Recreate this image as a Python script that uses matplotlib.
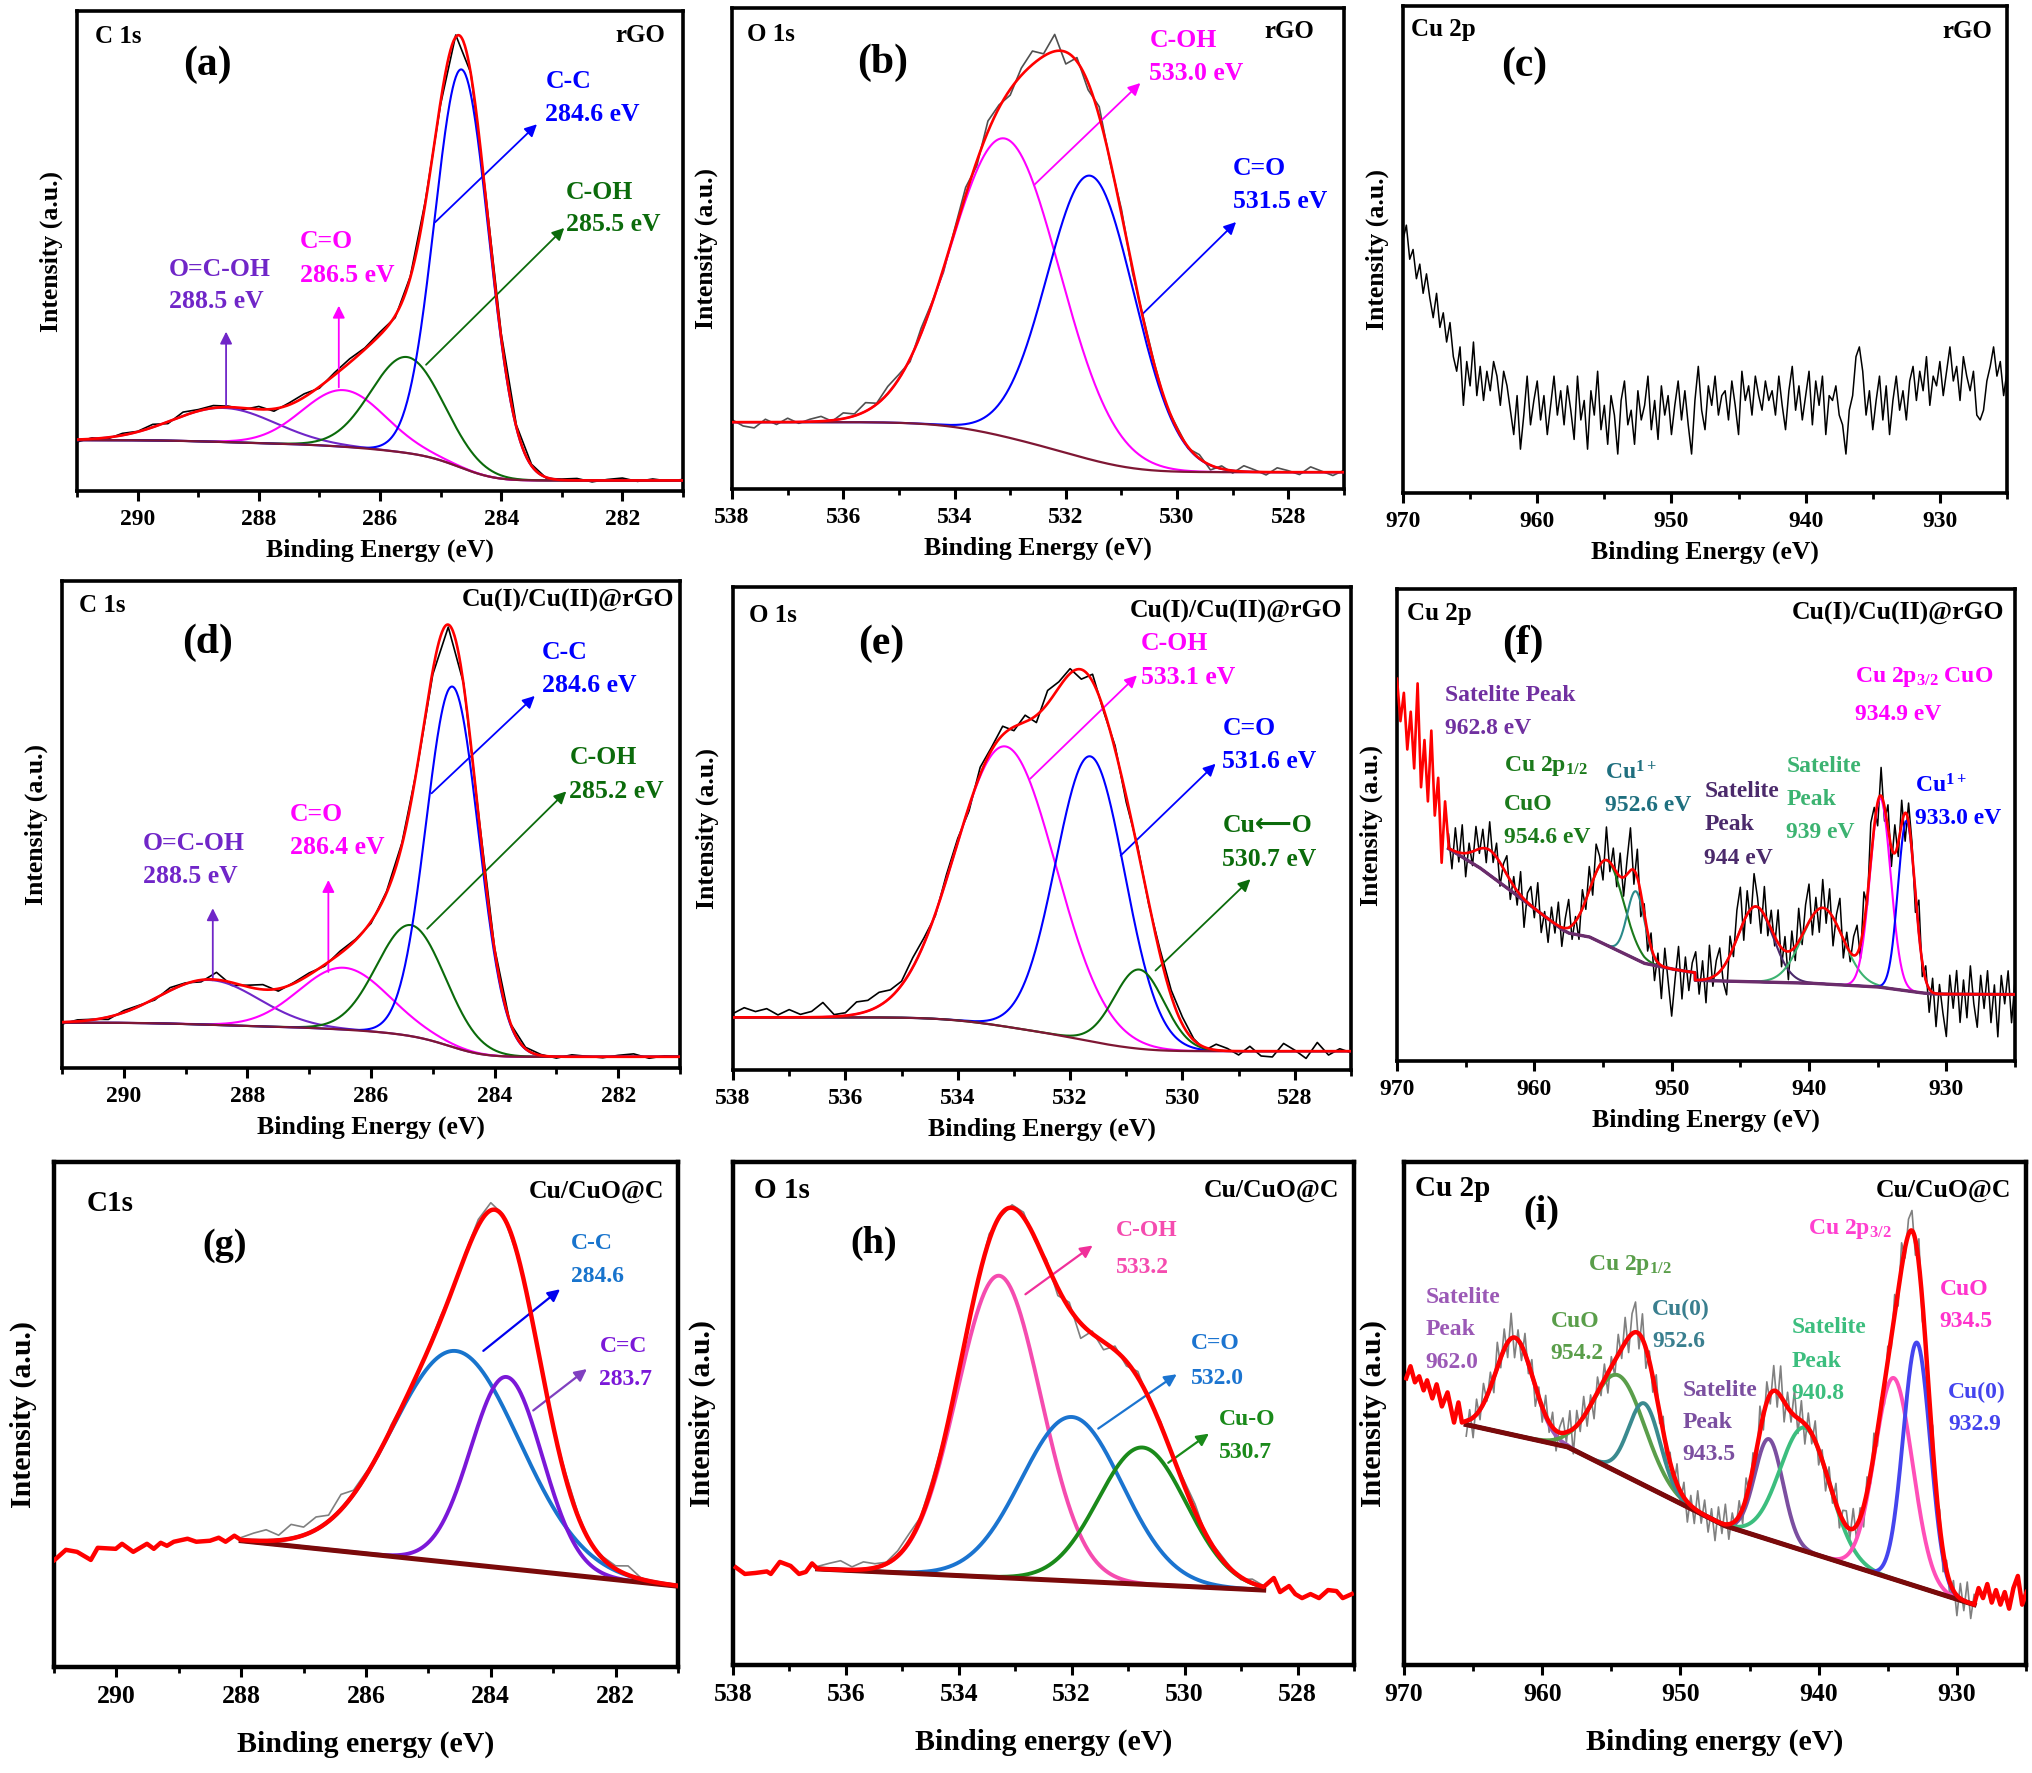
import numpy as np
import matplotlib
matplotlib.use('Agg')
import matplotlib.pyplot as plt
from matplotlib.ticker import MultipleLocator

plt.rcParams['font.family'] = ['Liberation Serif', 'DejaVu Sans']
plt.rcParams['font.weight'] = 'bold'
plt.rcParams['mathtext.fontset'] = 'custom'
plt.rcParams['mathtext.rm'] = 'Liberation Serif:bold'
plt.rcParams['mathtext.it'] = 'Liberation Serif:bold'
plt.rcParams['mathtext.bf'] = 'Liberation Serif:bold'
plt.rcParams['mathtext.default'] = 'rm'

# ------------------------------------------------------------------ data
# (a) rGO C 1s
a_centers = [288.58, 286.6, 285.55, 284.65]
a_amps = [7.1, 11.8, 20.0, 83.0]
a_fwhm = [2.0, 1.6, 1.4, 1.05]
a_bg = [10.6, 2.2]
a_resid = [-0.5, 0.2, -0.3, 0.4, 0.1, 0.6, -0.4, 0.8, 0.3, 0.5,
           0.2, -0.3, 0.6, -0.5, 0.4, 0.7, -0.3, 0.5, 0.8, 0.3,
           0.6, -0.4, 0.3, 0.5, -0.6, 0.4, 0.2, 0.6, 0.9, 0.4,
           0.3, -0.2, 0.2, 0.4, -0.3, 0.2, 0.5, -0.2, 0.3, -0.1, 0.2]

# (b) rGO O 1s
b_centers = [533.09, 531.55]
b_amps = [62.0, 59.0]
b_fwhm = [2.3, 1.85]
b_bg = [13.9, 3.5]
b_resid = [0.5, -0.8, -1.2, 0.6, -0.5, 0.8, -0.3, 0.5, 1.0, -0.2,
           1.2, 0.4, 1.8, 0.2, 1.5, 0.9, -0.6, 1.1, 0.3, -0.8,
           0.5, 1.6, -1.0, 2.2, 0.6, -1.2, 1.5, 2.8, 0.5, 3.5,
           -2.5, 0.8, -1.5, 2.0, -0.4, 1.0, -0.8, 0.5, 0.3, -0.6,
           0.4, -0.3, 0.8, -1.0, 0.6, -0.5, 1.2, 0.4, -0.6, 0.9,
           0.3, -0.5, 1.1, 0.2, -0.7, 0.4]

# (c) rGO Cu 2p raw counts (970 -> 925 eV)
c_raw = [52, 55, 48, 50, 44, 47, 41, 45, 40, 36, 41, 34, 37, 31, 35, 28,
         25, 30, 18, 27, 22, 31, 20, 26, 19, 25, 21, 27, 24, 18, 25, 22,
         17, 12, 20, 9, 16, 24, 14, 19, 23, 15, 20, 12, 18, 24, 16, 21,
         14, 22, 17, 11, 24, 15, 19, 9, 21, 16, 25, 13, 18, 10, 20, 16,
         8, 19, 23, 14, 17, 10, 21, 15, 18, 24, 13, 19, 11, 22, 16, 20,
         12, 18, 23, 15, 21, 14, 8, 19, 26, 17, 13, 22, 18, 24, 16, 20,
         21, 15, 23, 18, 12, 25, 19, 22, 16, 24, 20, 17, 23, 19, 21, 16,
         24, 18, 13, 21, 26, 17, 22, 15, 20, 25, 14, 23, 18, 24, 12, 20,
         19, 22, 16, 14, 8, 17, 20, 28, 30, 25, 16, 21, 13, 19, 24, 15,
         22, 12, 19, 24, 17, 21, 15, 23, 26, 19, 25, 21, 28, 18, 24, 22,
         27, 20, 25, 30, 23, 26, 19, 28, 24, 21, 25, 16, 15, 17, 23, 26,
         30, 24, 27, 20, 25]

# (d) Cu(I)/Cu(II)@rGO C 1s
d_centers = [288.62, 286.44, 285.35, 284.68]
d_amps = [9.2, 12.7, 22.8, 74.0]
d_fwhm = [1.9, 1.7, 1.3, 1.0]
d_bg = [9.3, 2.3]
d_resid = [-0.4, 0.3, 0.1, -0.5, 0.4, 0.2, -0.3, 0.6, 0.2, -0.4,
           1.5, -0.6, 0.3, 1.0, -0.5, 0.2, 0.4, -0.3, 0.5, 0.2,
           -0.4, 0.3, 0.5, -0.2, -0.8, -0.5, 0.3, 0.6, 0.4, -0.2,
           0.3, 0.2, -0.3, 0.4, 0.1, -0.2, 0.3, 0.6, -0.3, 0.2, 0.1]

# (e) Cu(I)/Cu(II)@rGO O 1s
e_centers = [533.15, 531.64, 530.77]
e_amps = [58.0, 59.0, 16.4]
e_fwhm = [2.1, 1.45, 1.05]
e_bg = [10.9, 3.9]
e_resid = [0.8, 2.0, 1.2, 1.8, 0.5, 1.6, 0.6, 1.2, 3.0, 0.4,
           0.6, 2.5, 2.2, 2.8, 1.6, 0.8, 2.0, 1.2, -0.4, 1.0,
           0.8, -1.0, 1.5, 0.6, 1.8, -0.8, 1.4, -1.5, 2.7, 1.2,
           1.0, -2.0, 1.5, -0.5, 0.8, -1.2, 0.6, -0.3, 1.0, 1.2,
           1.5, 0.3, -0.6, 1.2, 0.5, -0.8, 1.0, -1.0, -1.2, 1.6,
           0.2, -1.5, 1.8, -0.8, 0.5, -0.3]

# (f) Cu(I)/Cu(II)@rGO Cu 2p
f_centers = [963.2, 954.7, 952.6, 943.9, 939.0, 934.8, 932.9]
f_amps = [5.3, 18.0, 14.4, 15.9, 16.1, 40.0, 36.0]
f_fwhm = [2.5, 2.8, 1.5, 3.0, 3.5, 1.75, 1.46]
f_bg_x = [966.25, 964, 962, 960, 958, 957.5, 956, 954, 952, 950, 948.3, 948.29, 940, 935, 932, 931, 925]
f_bg_y = [45.0, 41.0, 36.7, 32.3, 27.9, 27.1, 26.3, 23.5, 20.7, 19.5, 18.7, 17.1, 16.5, 15.7, 14.5, 14.2, 14.1]
f_edge = [81, 72, 78, 66, 74, 62, 80, 58, 68, 55, 70, 52, 60, 42, 55, 46]   # 970 -> 966.25
f_resid = [3, -4, 5, -2, 6, -5, 2, -3, 5, -1,
           4, -3, 6, -2, 3, -5, 1, 4, -4, 2,
           -3, 5, -6, 2, 4, -2, 6, -4, 1, -5,
           3, -2, 5, -4, 2, 6, -3, 1, -5, 4,
           -2, 5, -3, 6, 2, -4, 7, -2, 4, -3,
           5, -4, 3, 9, -3, 6, -5, 2, -4, 3,
           -5, 2, -7, 4, -3, -10, -2, 5, -6, 3,
           -4, 2, 6, -3, 4, -5, 7, -2, 3, 5,
           -3, -7, 4, -2, 6, 9, -4, 5, -3, 7,
           2, -5, 6, -3, 4, -2, 7, -4, 3, -6,
           4, -3, 7, -2, 5, 8, -4, 3, -5, 6,
           -3, 5, -6, 2, 7, -4, 3, -2, 4, 6,
           -3, 7, -2, 8, 4, -5, 6, -3, 5, -4,
           6, -3, 5, -6, 4, 2, -4, 7, -3, 3,
           -5, 3, -7, 2, -4, -9, 4, -3, 5, -6,
           3, -5, 6, -2, -7, 4, -3, 5, -6, 2,
           -9, 4, -2, 5, -6, 3]

# (g) Cu/CuO@C C1s
g_centers = [284.56, 283.75]
g_amps = [42.0, 37.9]
g_fwhm = [2.4, 1.35]
g_bg_x = [288.0, 281.0]
g_bg_y = [25.0, 16.0]
g_left_x = [290.99, 290.81, 290.63, 290.41, 290.30, 290.01, 289.91, 289.73, 289.51, 289.40,
            289.29, 289.19, 289.08, 288.86, 288.72, 288.50, 288.36, 288.25, 288.11]
g_left_y = [21.2, 23.2, 22.8, 21.2, 23.6, 23.4, 24.4, 22.8, 24.4, 23.4,
            24.6, 24.0, 24.8, 25.4, 24.8, 25.0, 25.6, 24.8, 26.0]
g_resid = [0.5, 1.5, 2.2, 1.0, 2.8, 1.6, 2.5, 1.2, 3.0, 0.8,
           0.6, -0.5, 0.8, 0.3, -0.6, 0.4, 0.8, -0.3, 0.5, 1.2,
           1.5, 0.4, -0.6, 0.8, 0.5, -0.4, 1.0, 0.6, -0.3, 0.4,
           0.6, 1.8, 0.3, -0.2, 0.2, 0.1]

# (h) Cu/CuO@C O 1s
h_centers = [533.29, 532.0, 530.75]
h_amps = [60.0, 32.6, 27.2]
h_fwhm = [1.75, 2.1, 1.84]
h_bg_x = [536.5, 528.6]
h_bg_y = [19.1, 14.9]
h_left_x = [537.95, 537.79, 537.60, 537.40, 537.33, 537.17, 536.98, 536.83, 536.71, 536.60]
h_left_y = [19.4, 18.1, 18.3, 18.6, 18.1, 20.5, 19.7, 18.1, 18.5, 20.2]
h_right_x = [528.42, 528.31, 528.15, 528.04, 527.92, 527.77, 527.62, 527.46, 527.31, 527.20, 527.04]
h_right_y = [17.3, 14.5, 15.7, 14.1, 13.3, 14.1, 13.3, 14.9, 14.7, 13.3, 14.1]
h_resid = [0.5, 1.2, 1.8, 0.6, 1.5, 0.8, 0.3, 1.0, 1.6, 0.4,
           1.2, 0.6, -0.5, 0.8, 0.3, 1.2, -0.4, 0.6, 1.0, -0.6,
           0.8, -1.5, 1.2, -3.0, 0.5, -1.6, 0.8, -0.9, 1.2, -0.5,
           0.7, -0.4, 0.9, 1.5, -0.3, 0.6, 0.4, -0.5, 0.8, 0.2]

# (i) Cu/CuO@C Cu 2p
i_centers = [962.0, 954.45, 952.6, 943.6, 941.0, 934.57, 932.9]
i_amps = [19.4, 19.3, 16.3, 20.0, 24.5, 40.0, 48.5]
i_fwhm = [3.2, 4.4, 2.7, 2.4, 4.2, 3.2, 2.3]
i_bg_x = [965.5, 958.2, 946.8, 928.75]
i_bg_y = [47.8, 43.4, 27.7, 12.0]
i_left_x = [969.84, 969.53, 969.21, 968.90, 968.58, 968.33, 967.95, 967.64, 967.26, 966.85, 966.38, 966.06, 965.81]
i_left_y = [57.0, 59.4, 56.2, 57.4, 54.6, 56.6, 53.0, 55.8, 51.4, 54.2, 48.2, 52.2, 48.2]
i_right_x = [928.43, 928.11, 927.80, 927.48, 927.17, 926.85, 926.54, 926.22, 925.91, 925.59, 925.28, 924.96]
i_right_y = [15.3, 13.3, 16.1, 12.4, 14.9, 12.0, 14.5, 11.2, 15.3, 17.7, 12.0, 14.5]
i_resid = [-3, 2, -4, 3, -2, 4, -1, 3, -3, 5,
           -2, 4, -3, 5, -4, 2, -3, 4, -2, 3,
           -4, 2, -3, 4, -2, 3, -4, 1, 3, -2,
           4, -5, 3, -2, 4, -3, 2, -4, 3, -2,
           3, -4, 2, -3, 4, -2, 5, -3, 4, 6,
           -3, 5, -4, 2, -3, 4, -2, 3, -4, 2,
           -3, 4, -2, 3, -4, 2, -3, 4, -2, 3,
           -3, 2, -4, 3, -2, 4, -3, 2, -2, 3,
           -3, 4, -2, 3, -4, 5, -3, 4, -2, 5,
           -3, 6, -4, 3, -2, 5, -3, 4, -4, 3,
           -2, 4, -3, 2, -4, 3, -2, 4, -3, 2,
           3, -2, 4, -3, 2, -4, 3, -2, 4, -3,
           2, -4, 3, -2, 4, -3, 5, -2, 3, 4,
           -3, 5, -4, 2, -3, 4, -2, 3, -4, 2,
           -3, 2, -4, 3, -2, 4, -3, 2]

# ------------------------------------------------------------------ helpers
W, H = 2032, 1773
fig = plt.figure(figsize=(W / 100, H / 100), dpi=100)
K = 20
BG = '#7F1734'
BG3 = '#7A0A0A'


def make_ax(l, t, r, b):
    return fig.add_axes([l / W, 1 - b / H, (r - l) / W, (b - t) / H])


def gauss(x, c, a, w):
    return a * np.exp(-4 * np.log(2) * (x - c) ** 2 / w ** 2)


def shirley(tot, high, low):
    s = np.cumsum(tot[::-1])[::-1]
    return low + (high - low) * s / s[0]


def lin_bg(x, xs, ys):
    xs = np.asarray(xs)[::-1]
    ys = np.asarray(ys)[::-1]
    return np.interp(x, xs, ys)


def style(ax, xlim, major, minor, xlabel, big=False):
    ax.set_xlim(*xlim)
    ax.set_ylim(0, 100)
    ax.set_yticks([])
    ax.xaxis.set_major_locator(MultipleLocator(major))
    ax.xaxis.set_minor_locator(MultipleLocator(minor))
    ax.tick_params(axis='x', which='major', direction='out', length=7, width=2.2,
                   labelsize=18.5 if big else 17, pad=6)
    ax.tick_params(axis='x', which='minor', direction='out', length=4, width=2.0)
    for s in ax.spines.values():
        s.set_linewidth(3.2 if big else 2.6)
    ax.set_xlabel(xlabel, fontsize=21.5 if big else 18.5, labelpad=16 if big else 6,
                  fontweight='bold')
    ax.set_ylabel('Intensity (a.u.)', fontsize=21.5 if big else 18.5,
                  labelpad=12 if big else 10, fontweight='bold')


def txt(ax, x, y, s, color='black', size=18.5, ha='left', **kw):
    ax.text(x, y, s, color=color, fontsize=size, ha=ha, va='center', fontweight='bold', **kw)


def arrow(ax, start, end, color, lw=1.3, ms=18):
    ax.annotate('', xy=end, xytext=start,
                arrowprops=dict(arrowstyle='-|>', color=color, lw=lw, mutation_scale=ms,
                                shrinkA=0, shrinkB=0))


def shirley_panel(ax, x0, x1, centers, amps, fwhms, colors, bgp, resid, raw_color):
    n = len(resid)
    x = np.linspace(x0, x1, (n - 1) * K + 1)
    comps = [gauss(x, c, a, w) for c, a, w in zip(centers, amps, fwhms)]
    tot = np.sum(comps, axis=0)
    bg = shirley(tot, bgp[0], bgp[1])
    env = bg + tot
    ax.plot(x[::K], env[::K] + np.array(resid), color=raw_color, lw=1.2, zorder=2)
    for comp, col in zip(comps, colors):
        ax.plot(x, bg + comp, color=col, lw=1.5, zorder=3)
    ax.plot(x, bg, color=BG, lw=1.6, zorder=3.5)
    ax.plot(x, env, color='red', lw=1.9, zorder=4)


PURPLE = '#7026C8'
MAG = '#FF00FF'
GRN = '#0B6B0B'
BLU = '#0000FF'

# ------------------------------------------------------------------ (a)
ax = make_ax(77, 11, 683, 491)
shirley_panel(ax, 291, 281, a_centers, a_amps, a_fwhm, [PURPLE, MAG, GRN, BLU], a_bg, a_resid, 'black')
style(ax, (291, 281), 2, 1, 'Binding Energy (eV)')
txt(ax, 290.71, 94.6, 'C 1s', size=18)
txt(ax, 281.3, 95.0, 'rGO', size=18, ha='right')
txt(ax, 288.84, 88.8, '(a)', size=30, ha='center')
txt(ax, 283.27, 85.3, 'C-C', BLU)
txt(ax, 283.27, 78.4, '284.6 eV', BLU)
txt(ax, 282.93, 62.2, 'C-OH', GRN)
txt(ax, 282.93, 55.6, '285.5 eV', GRN)
txt(ax, 287.32, 52.0, 'C=O', MAG)
txt(ax, 287.32, 44.8, '286.5 eV', MAG)
txt(ax, 289.48, 46.1, 'O=C-OH', PURPLE)
txt(ax, 289.48, 39.4, '288.5 eV', PURPLE)
arrow(ax, (285.09, 56.0), (283.41, 76.4), BLU)
arrow(ax, (285.24, 26.3), (282.96, 54.8), GRN)
arrow(ax, (286.68, 21.6), (286.68, 38.6), MAG)
arrow(ax, (288.54, 17.8), (288.54, 33.2), PURPLE)

# ------------------------------------------------------------------ (b)
ax = make_ax(732, 8, 1344, 489)
shirley_panel(ax, 538, 527, b_centers, b_amps, b_fwhm, [MAG, BLU], b_bg, b_resid, '#505050')
style(ax, (538, 527), 2, 1, 'Binding Energy (eV)')
txt(ax, 537.73, 94.4, 'O 1s', size=18)
txt(ax, 527.53, 95.1, 'rGO', size=18, ha='right')
txt(ax, 535.30, 88.6, '(b)', size=30, ha='center')
txt(ax, 530.5, 93.2, 'C-OH', MAG)
txt(ax, 530.5, 86.3, '533.0 eV', MAG)
txt(ax, 529.0, 66.6, 'C=O', BLU)
txt(ax, 529.0, 59.7, '531.5 eV', BLU)
arrow(ax, (532.57, 63.2), (530.66, 84.4), MAG)
arrow(ax, (530.62, 36.4), (528.94, 55.5), BLU)

# ------------------------------------------------------------------ (c)
ax = make_ax(1403, 6, 2007, 493)
xc = np.linspace(970, 925, len(c_raw))
ax.plot(xc, c_raw, color='black', lw=1.1)
style(ax, (970, 925), 10, 5, 'Binding Energy (eV)')
txt(ax, 969.42, 95.1, 'Cu 2p', size=18)
txt(ax, 926.07, 94.7, 'rGO', size=18, ha='right')
txt(ax, 960.97, 87.8, '(c)', size=30, ha='center')

# ------------------------------------------------------------------ (d)
ax = make_ax(62, 581, 680, 1068)
shirley_panel(ax, 291, 281, d_centers, d_amps, d_fwhm, [PURPLE, MAG, GRN, BLU], d_bg, d_resid, 'black')
style(ax, (291, 281), 2, 1, 'Binding Energy (eV)')
txt(ax, 290.73, 95.0, 'C 1s', size=18)
txt(ax, 281.09, 96.1, 'Cu(I)/Cu(II)@rGO', size=18.5, ha='right')
txt(ax, 288.65, 87.3, '(d)', size=30, ha='center')
txt(ax, 283.24, 85.3, 'C-C', BLU)
txt(ax, 283.24, 78.5, '284.6 eV', BLU)
txt(ax, 282.79, 63.7, 'C-OH', GRN)
txt(ax, 282.79, 56.8, '285.2 eV', GRN)
txt(ax, 287.31, 52.1, 'C=O', MAG)
txt(ax, 287.31, 45.2, '286.4 eV', MAG)
txt(ax, 289.69, 46.1, 'O=C-OH', PURPLE)
txt(ax, 289.69, 39.4, '288.5 eV', PURPLE)
arrow(ax, (285.02, 56.4), (283.35, 76.4), BLU)
arrow(ax, (285.09, 28.6), (282.84, 56.8), GRN)
arrow(ax, (286.69, 19.7), (286.69, 38.6), MAG)
arrow(ax, (288.56, 18.0), (288.56, 32.8), PURPLE)

# ------------------------------------------------------------------ (e)
ax = make_ax(733, 587, 1351, 1070)
shirley_panel(ax, 538, 527, e_centers, e_amps, e_fwhm, [MAG, BLU, GRN], e_bg, e_resid, 'black')
style(ax, (538, 527), 2, 1, 'Binding Energy (eV)')
txt(ax, 537.71, 94.2, 'O 1s', size=18)
txt(ax, 527.15, 94.9, 'Cu(I)/Cu(II)@rGO', size=18.5, ha='right')
txt(ax, 535.36, 88.3, '(e)', size=30, ha='center')
txt(ax, 530.74, 88.3, 'C-OH', MAG)
txt(ax, 530.74, 81.3, '533.1 eV', MAG)
txt(ax, 529.29, 70.8, 'C=O', BLU)
txt(ax, 529.29, 63.8, '531.6 eV', BLU)
txt(ax, 529.29, 50.6, 'Cu\u27f5O', GRN)
txt(ax, 529.29, 43.6, '530.7 eV', GRN)
arrow(ax, (532.71, 60.3), (530.81, 81.7), MAG)
arrow(ax, (531.10, 44.4), (529.41, 63.4), BLU)
arrow(ax, (530.48, 20.6), (528.79, 39.5), GRN)

# ------------------------------------------------------------------ (f)
ax = make_ax(1397, 589, 2015, 1061)
f_cols = ['#7B2FBE', '#1B7A1B', '#2A8A8A', '#4B2A6B', '#3CB371', MAG, BLU]
n = len(f_resid)
xf = np.linspace(966.25, 925, (n - 1) * K + 1)
comps = [gauss(xf, c, a, w) for c, a, w in zip(f_centers, f_amps, f_fwhm)]
bgf = lin_bg(xf, f_bg_x, f_bg_y)
envf = bgf + np.sum(comps, axis=0)
ax.plot(xf[::K], envf[::K] + np.array(f_resid), color='black', lw=1.1, zorder=2)
for comp, col in zip(comps, f_cols):
    ax.plot(xf, bgf + comp, color=col, lw=1.5, zorder=3)
ax.plot(xf, bgf, color='#6B2D6B', lw=2.4, zorder=3.5)
xe = np.linspace(970, 966.25, len(f_edge))
ax.plot(np.concatenate([xe, xf]), np.concatenate([f_edge, envf]), color='red', lw=1.9, zorder=4)
style(ax, (970, 925), 10, 5, 'Binding Energy (eV)')
txt(ax, 969.27, 94.8, 'Cu 2p', size=18)
txt(ax, 925.78, 94.8, 'Cu(I)/Cu(II)@rGO', size=18.5, ha='right')
txt(ax, 960.86, 88.4, '(f)', size=30, ha='center')
fs = 17
txt(ax, 966.48, 77.5, 'Satelite Peak', '#7030A0', fs)
txt(ax, 966.48, 70.5, '962.8 eV', '#7030A0', fs)
txt(ax, 962.22, 62.5, 'Cu 2p$_{1/2}$', '#1B7A1B', fs)
txt(ax, 962.22, 54.4, 'CuO', '#1B7A1B', fs)
txt(ax, 962.22, 47.3, '954.6 eV', '#1B7A1B', fs)
txt(ax, 954.83, 61.0, 'Cu$^{1+}$', '#1F6F7F', fs)
txt(ax, 954.83, 54.2, '952.6 eV', '#1F6F7F', fs)
txt(ax, 947.62, 57.1, 'Satelite', '#4B2A6B', fs)
txt(ax, 947.62, 50.0, 'Peak', '#4B2A6B', fs)
txt(ax, 947.62, 43.0, '944 eV', '#4B2A6B', fs)
txt(ax, 941.65, 62.5, 'Satelite', '#3CB371', fs)
txt(ax, 941.65, 55.4, 'Peak', '#3CB371', fs)
txt(ax, 941.65, 48.4, '939 eV', '#3CB371', fs)
txt(ax, 936.63, 81.3, 'Cu 2p$_{3/2}$ CuO', MAG, fs)
txt(ax, 936.63, 73.5, '934.9 eV', MAG, fs)
txt(ax, 932.29, 58.2, 'Cu$^{1+}$', BLU, fs)
txt(ax, 932.29, 51.4, '933.0 eV', BLU, fs)

# ------------------------------------------------------------------ (g)
ax = make_ax(54, 1162, 678, 1667)
g_cols = ['#1874CD', '#7B18D8']
n = len(g_resid)
xg = np.linspace(288.0, 281.0, (n - 1) * K + 1)
comps = [gauss(xg, c, a, w) for c, a, w in zip(g_centers, g_amps, g_fwhm)]
bgg = lin_bg(xg, g_bg_x, g_bg_y)
envg = bgg + np.sum(comps, axis=0)
ax.plot(xg[::K], envg[::K] + np.array(g_resid), color='#808080', lw=1.2, zorder=2)
for comp, col in zip(comps, g_cols):
    ax.plot(xg, bgg + comp, color=col, lw=2.8, zorder=3)
ax.plot(xg, bgg, color=BG3, lw=3.6, zorder=3.5)
ax.plot(np.concatenate([g_left_x, xg]), np.concatenate([g_left_y, envg]), color='red', lw=3.2, zorder=4)
style(ax, (291, 281), 2, 1, 'Binding energy (eV)', big=True)
txt(ax, 290.48, 91.8, 'C1s', size=21)
txt(ax, 288.27, 83.4, '(g)', size=27.5, ha='center')
txt(ax, 281.22, 94.2, 'Cu/CuO@C', size=18.5, ha='right')
txt(ax, 282.71, 83.8, 'C-C', '#1874CD', 17)
txt(ax, 282.71, 77.4, '284.6', '#1874CD', 17)
txt(ax, 282.26, 63.4, 'C=C', '#7B18D8', 17)
txt(ax, 282.26, 57.0, '283.7', '#7B18D8', 17)
arrow(ax, (284.12, 62.6), (282.89, 74.8), '#0000EE', lw=1.6)
arrow(ax, (283.32, 50.8), (282.46, 59.0), '#8040C0', lw=1.6)

# ------------------------------------------------------------------ (h)
ax = make_ax(733, 1162, 1354, 1665)
h_cols = ['#F54CAF', '#1B74D0', '#1A8A1A']
n = len(h_resid)
xh = np.linspace(536.5, 528.6, (n - 1) * K + 1)
comps = [gauss(xh, c, a, w) for c, a, w in zip(h_centers, h_amps, h_fwhm)]
bgh = lin_bg(xh, h_bg_x, h_bg_y)
envh = bgh + np.sum(comps, axis=0)
ax.plot(xh[::K], envh[::K] + np.array(h_resid), color='#808080', lw=1.2, zorder=2)
for comp, col in zip(comps, h_cols):
    ax.plot(xh, bgh + comp, color=col, lw=2.8, zorder=3)
ax.plot(xh, bgh, color=BG3, lw=3.6, zorder=3.5)
ax.plot(np.concatenate([h_left_x, xh, h_right_x]), np.concatenate([h_left_y, envh, h_right_y]),
        color='red', lw=3.2, zorder=4)
style(ax, (538, 527), 2, 1, 'Binding energy (eV)', big=True)
txt(ax, 537.62, 94.4, 'O 1s', size=21)
txt(ax, 535.51, 83.9, '(h)', size=27.5, ha='center')
txt(ax, 527.27, 94.4, 'Cu/CuO@C', size=18.5, ha='right')
txt(ax, 531.21, 86.3, 'C-OH', '#F54CAF', 17)
txt(ax, 531.21, 79.1, '533.2', '#F54CAF', 17)
txt(ax, 529.89, 63.9, 'C=O', '#1B74D0', 17)
txt(ax, 529.89, 57.0, '532.0', '#1B74D0', 17)
txt(ax, 529.39, 48.8, 'Cu-O', '#1A8A1A', 17)
txt(ax, 529.39, 42.2, '530.7', '#1A8A1A', 17)
arrow(ax, (532.82, 73.7), (531.63, 83.4), '#F0309A', lw=1.6)
arrow(ax, (531.53, 47.0), (530.14, 57.8), '#1B74D0', lw=1.6)
arrow(ax, (530.29, 40.2), (529.57, 46.0), '#1A8A1A', lw=1.6)

# ------------------------------------------------------------------ (i)
ax = make_ax(1404, 1162, 2026, 1665)
i_cols = ['#9B59B6', '#5A9E4A', '#3A8A8F', '#7B4FA0', '#3CBE7E', '#FF4FB8', '#4545EE']
n = len(i_resid)
xi = np.linspace(965.5, 928.75, (n - 1) * K + 1)
comps = [gauss(xi, c, a, w) for c, a, w in zip(i_centers, i_amps, i_fwhm)]
bgi = lin_bg(xi, i_bg_x, i_bg_y)
envi = bgi + np.sum(comps, axis=0)
ax.plot(xi[::K], envi[::K] + np.array(i_resid), color='#808080', lw=1.2, zorder=2)
for comp, col in zip(comps, i_cols):
    ax.plot(xi, bgi + comp, color=col, lw=2.8, zorder=3)
ax.plot(xi, bgi, color=BG3, lw=3.6, zorder=3.5)
ax.plot(np.concatenate([i_left_x, xi, i_right_x]), np.concatenate([i_left_y, envi, i_right_y]),
        color='red', lw=3.2, zorder=4)
style(ax, (970, 925), 10, 5, 'Binding energy (eV)', big=True)
txt(ax, 969.21, 94.8, 'Cu 2p', size=21)
txt(ax, 960.08, 90.0, '(i)', size=27.5, ha='center')
txt(ax, 926.06, 94.4, 'Cu/CuO@C', size=18.5, ha='right')
fs = 17
txt(ax, 968.43, 73.1, 'Satelite', '#9B59B6', fs)
txt(ax, 968.43, 66.7, 'Peak', '#9B59B6', fs)
txt(ax, 968.43, 60.2, '962.0', '#9B59B6', fs)
txt(ax, 956.68, 79.5, 'Cu 2p$_{1/2}$', '#5A9E4A', fs)
txt(ax, 959.39, 68.3, 'CuO', '#5A9E4A', fs)
txt(ax, 959.39, 62.0, '954.2', '#5A9E4A', fs)
txt(ax, 952.05, 70.7, 'Cu(0)', '#3A7F8F', fs)
txt(ax, 952.05, 64.3, '952.6', '#3A7F8F', fs)
txt(ax, 949.84, 54.6, 'Satelite', '#7B4FA0', fs)
txt(ax, 949.84, 48.2, 'Peak', '#7B4FA0', fs)
txt(ax, 949.84, 41.8, '943.5', '#7B4FA0', fs)
txt(ax, 941.97, 67.1, 'Satelite', '#3CBE7E', fs)
txt(ax, 941.97, 60.4, 'Peak', '#3CBE7E', fs)
txt(ax, 941.97, 54.0, '940.8', '#3CBE7E', fs)
txt(ax, 940.80, 86.7, 'Cu 2p$_{3/2}$', '#FF40D0', fs)
txt(ax, 931.26, 74.7, 'CuO', '#FF33CC', fs)
txt(ax, 931.26, 68.3, '934.5', '#FF33CC', fs)
txt(ax, 930.63, 54.2, 'Cu(0)', '#4444EE', fs)
txt(ax, 930.63, 47.8, '932.9', '#4444EE', fs)

fig.savefig('out.png', dpi=100)
